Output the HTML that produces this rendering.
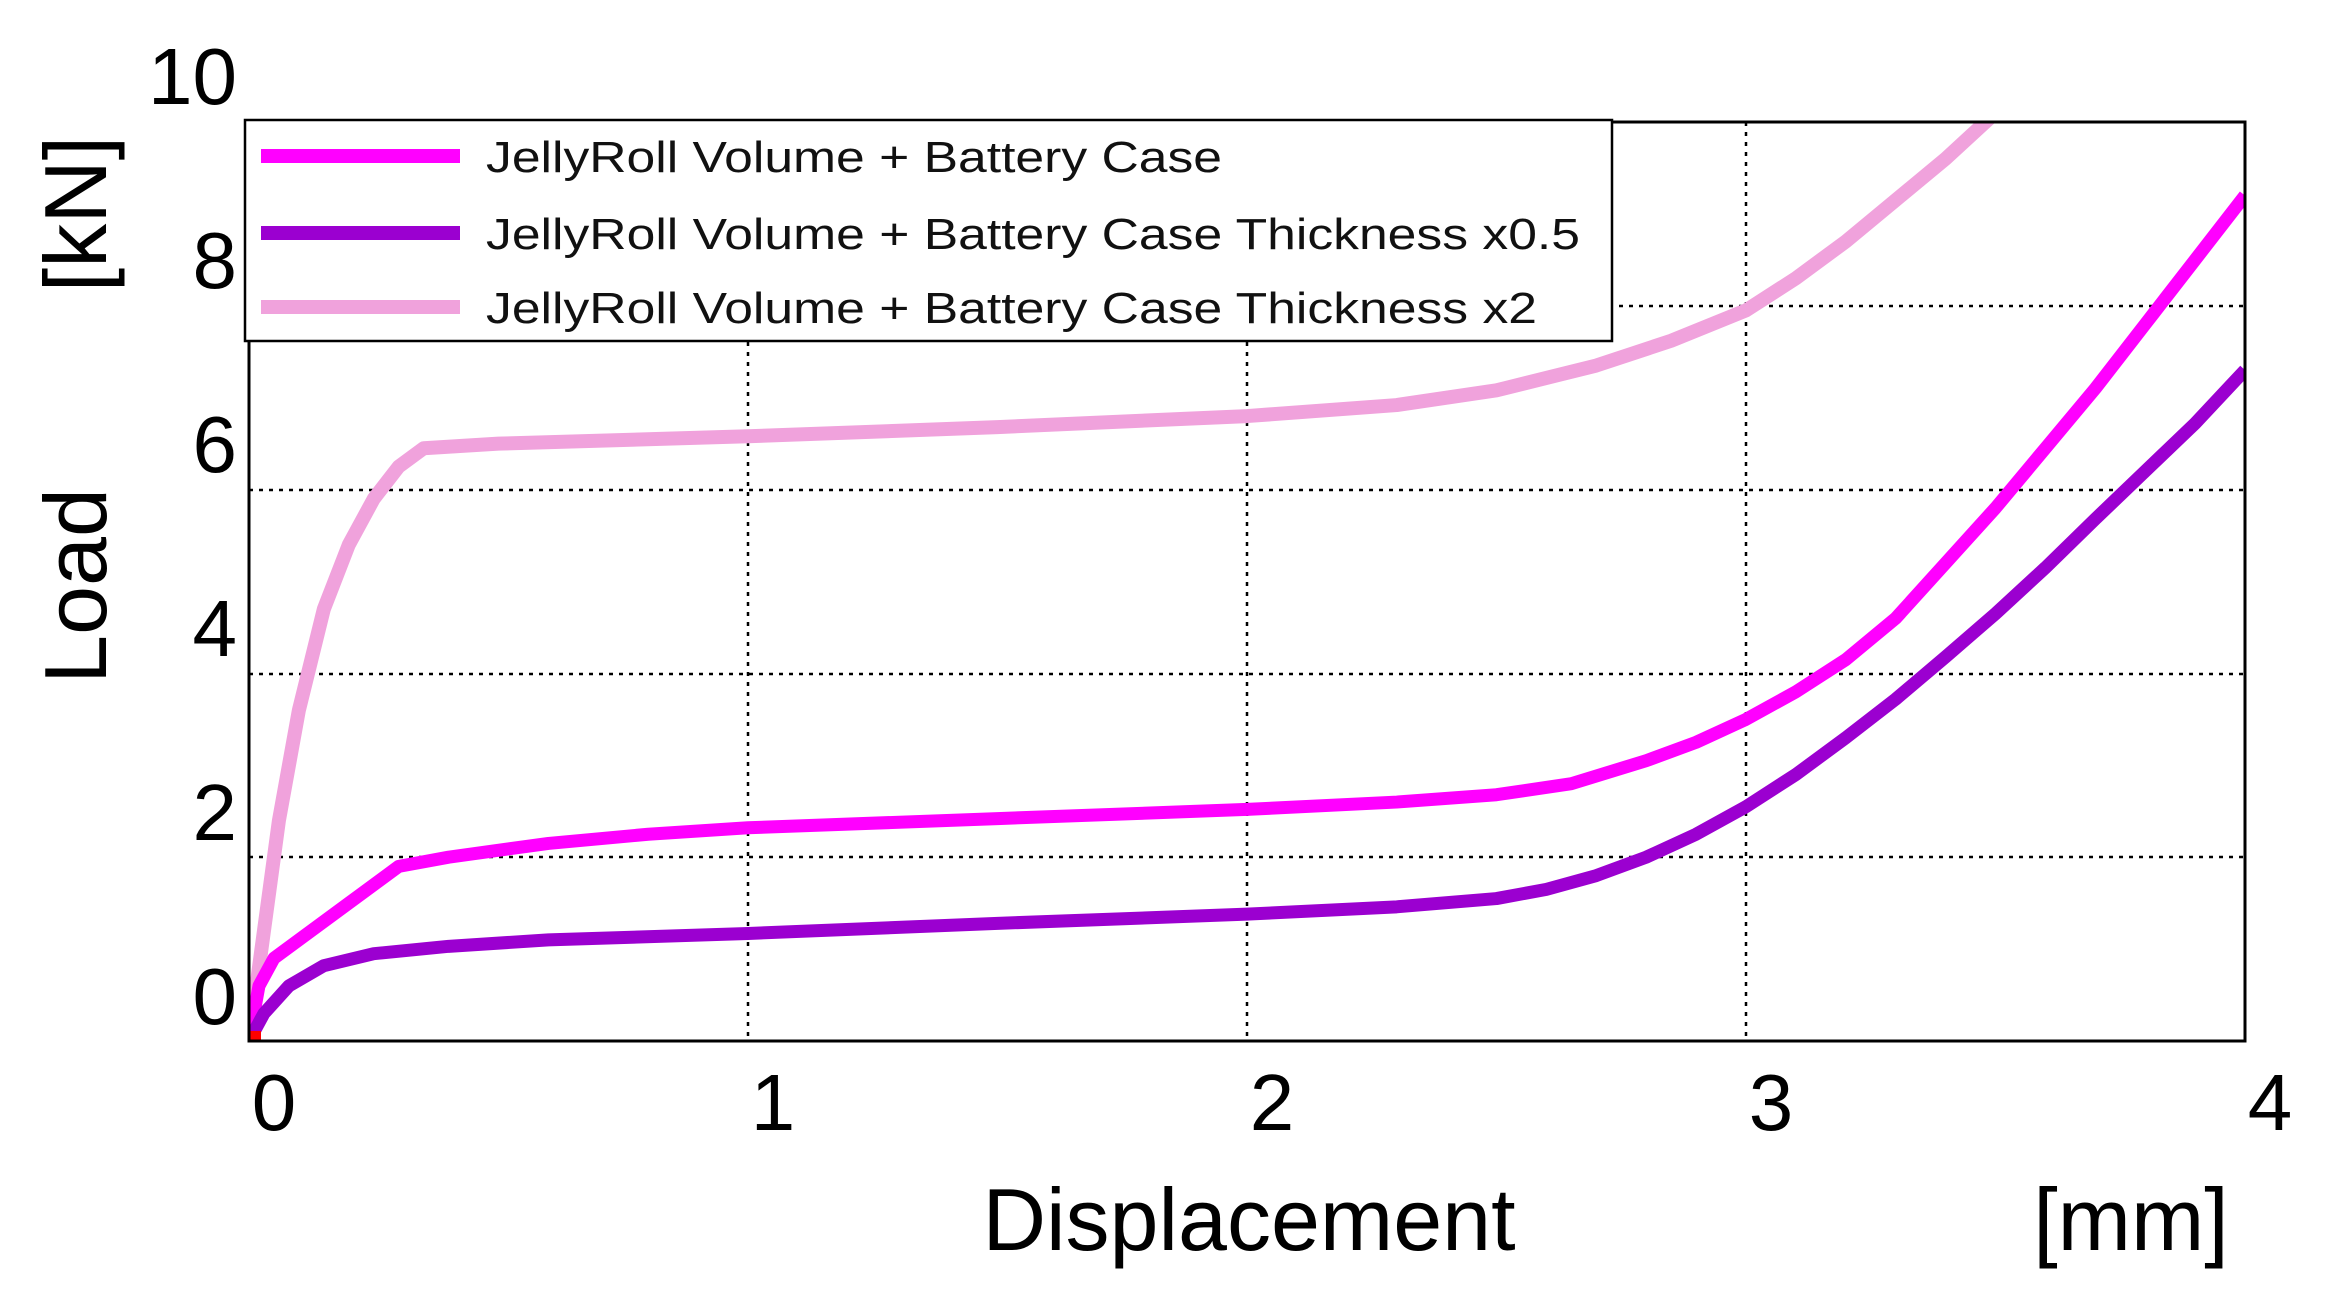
<!DOCTYPE html>
<html><head><meta charset="utf-8"><style>
html,body{margin:0;padding:0;background:#fff}
svg{display:block;font-family:"Liberation Sans",Arial,sans-serif}
</style></head><body>
<svg width="2326" height="1292" viewBox="0 0 2326 1292" xmlns="http://www.w3.org/2000/svg">
<defs><clipPath id="c"><rect x="249" y="122" width="1996" height="919"/></clipPath></defs>
<rect width="2326" height="1292" fill="#fff"/>
<g stroke="#000" stroke-width="2.5" stroke-dasharray="4,6">
<line x1="748" y1="122" x2="748" y2="1041"/>
<line x1="1247" y1="122" x2="1247" y2="1041"/>
<line x1="1746" y1="122" x2="1746" y2="1041"/>
<line x1="249" y1="857" x2="2245" y2="857"/>
<line x1="249" y1="674" x2="2245" y2="674"/>
<line x1="249" y1="490" x2="2245" y2="490"/>
<line x1="249" y1="306" x2="2245" y2="306"/>
</g>
<g clip-path="url(#c)" fill="none" stroke-linejoin="round">
<g transform="translate(249,1041) scale(499,-91.9)">
<polyline vector-effect="non-scaling-stroke" stroke="#f0a2dc" stroke-width="14" points="0,0 0.03,1.2 0.06,2.4 0.1,3.6 0.15,4.7 0.2,5.4 0.25,5.9 0.3,6.25 0.35,6.45 0.5,6.5 1,6.58 1.5,6.68 2,6.8 2.3,6.92 2.5,7.08 2.7,7.35 2.85,7.62 3.0,7.95 3.1,8.3 3.2,8.7 3.3,9.15 3.4,9.6 3.5,10.1"/>
<polyline vector-effect="non-scaling-stroke" stroke="#ff00ff" stroke-width="13" points="0,0 0.02,0.6 0.05,0.9 0.1,1.1 0.2,1.5 0.3,1.9 0.4,2.0 0.6,2.15 0.8,2.25 1,2.32 1.5,2.42 2,2.52 2.3,2.6 2.5,2.68 2.65,2.8 2.8,3.05 2.9,3.25 3.0,3.5 3.1,3.8 3.2,4.15 3.3,4.6 3.4,5.2 3.5,5.8 3.6,6.45 3.7,7.1 3.8,7.8 3.9,8.5 4,9.2"/>
<polyline vector-effect="non-scaling-stroke" stroke="#9b00d0" stroke-width="13" points="0,0 0.03,0.3 0.08,0.6 0.15,0.82 0.25,0.95 0.4,1.03 0.6,1.1 1,1.17 1.5,1.28 2,1.38 2.3,1.46 2.5,1.55 2.6,1.65 2.7,1.8 2.8,2.0 2.9,2.25 3.0,2.55 3.1,2.9 3.2,3.3 3.3,3.72 3.4,4.18 3.5,4.65 3.6,5.15 3.7,5.68 3.8,6.2 3.9,6.72 4,7.3"/>
</g></g>
<rect x="249" y="1031" width="12" height="10" fill="#f00"/>
<rect x="249" y="122" width="1996" height="919" fill="none" stroke="#000" stroke-width="3"/>
<rect x="245" y="120" width="1367" height="221" fill="#fff" stroke="#000" stroke-width="2.5"/>
<line x1="261" y1="156" x2="460" y2="156" stroke="#ff00ff" stroke-width="14"/>
<line x1="261" y1="233" x2="460" y2="233" stroke="#9b00d0" stroke-width="14"/>
<line x1="261" y1="307" x2="460" y2="307" stroke="#f0a2dc" stroke-width="14"/>
<g font-size="44" fill="#111">
<text x="486" y="172" textLength="736" lengthAdjust="spacingAndGlyphs">JellyRoll Volume + Battery Case</text>
<text x="486" y="249" textLength="1094" lengthAdjust="spacingAndGlyphs">JellyRoll Volume + Battery Case Thickness x0.5</text>
<text x="486" y="323" textLength="1051" lengthAdjust="spacingAndGlyphs">JellyRoll Volume + Battery Case Thickness x2</text>
</g>
<g font-size="80" fill="#000" text-anchor="end">
<text x="237" y="1024">0</text>
<text x="237" y="840">2</text>
<text x="237" y="656">4</text>
<text x="237" y="472">6</text>
<text x="237" y="288">8</text>
<text x="237" y="104">10</text>
</g>
<g font-size="80" fill="#000" text-anchor="middle">
<text x="274" y="1130">0</text>
<text x="773" y="1130">1</text>
<text x="1272" y="1130">2</text>
<text x="1771" y="1130">3</text>
<text x="2270" y="1130">4</text>
</g>
<text x="1249" y="1250" font-size="88" text-anchor="middle">Displacement</text>
<text x="2131" y="1250" font-size="88" text-anchor="middle">[mm]</text>
<text transform="translate(106,586) rotate(-90)" font-size="88" text-anchor="middle">Load</text>
<text transform="translate(106,214) rotate(-90)" font-size="88" text-anchor="middle">[kN]</text>
</svg>
</body></html>
